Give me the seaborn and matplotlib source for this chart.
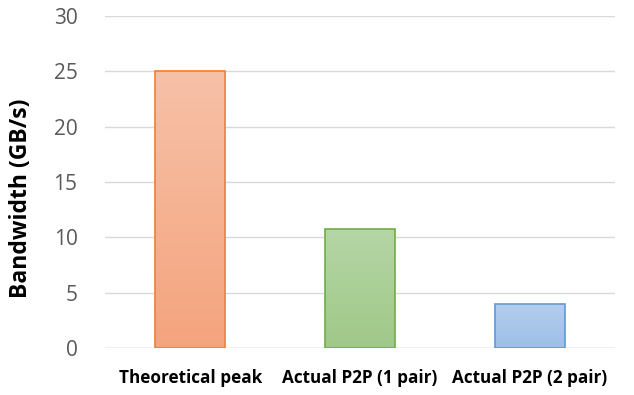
import matplotlib
matplotlib.use("Agg")
import matplotlib.pyplot as plt
import seaborn as sns
import numpy as np
import pandas as pd
from matplotlib.colors import LinearSegmentedColormap

categories = ["Theoretical peak", "Actual P2P (1 pair)", "Actual P2P (2 pair)"]
values = [25.0, 10.8, 4.0]
top_colors = ["#F7C1A8", "#B5D6A6", "#B4CEEC"]
bottom_colors = ["#F4A47D", "#A0C888", "#9CBFE8"]
edge_colors = ["#F07F35", "#70AD47", "#5B9BD5"]
yticks = [0, 5, 10, 15, 20, 25, 30]

sns.set_theme(style="white")
plt.rcParams['font.family'] = ['Open Sans', 'DejaVu Sans']

df = pd.DataFrame({"cat": categories, "val": values})
fig = plt.figure(figsize=(6.34, 3.95), dpi=100)
ax = fig.add_axes([0.166, 0.119, 0.804, 0.84])
sns.barplot(data=df, x="cat", y="val", ax=ax, width=0.41, color="white", zorder=3)

for i, p in enumerate(ax.patches):
    p.set_edgecolor(edge_colors[i])
    p.set_linewidth(1.2)
    p.set_facecolor("none")
    x0, y0 = p.get_x(), p.get_y()
    w, h = p.get_width(), p.get_height()
    cmap = LinearSegmentedColormap.from_list("g", [bottom_colors[i], top_colors[i]])
    grad = np.linspace(0, 1, 256).reshape(-1, 1)
    im = ax.imshow(grad, extent=[x0, x0 + w, y0, y0 + h], origin="lower",
                   aspect="auto", cmap=cmap, zorder=2)
    im.set_clip_path(p)

ax.set_xlim(-0.5, 2.5)
ax.set_ylim(0, 30)
ax.set_yticks(yticks)
ax.yaxis.grid(True, color="#D9D9D9", linewidth=1)
ax.set_axisbelow(True)
for s in ax.spines.values():
    s.set_visible(False)
ax.axhline(0, color="#D9D9D9", linewidth=1, zorder=1)
ax.tick_params(axis="y", length=0, labelsize=15, labelcolor="#595959", pad=20)
ax.tick_params(axis="x", length=0, pad=15)
for lbl in ax.get_xticklabels():
    lbl.set_fontweight("bold")
    lbl.set_fontsize(12.3)
    lbl.set_color("black")
ax.set_xlabel("")
ax.set_ylabel("Bandwidth (GB/s)", fontsize=16.5, fontweight="bold", color="black", labelpad=8)
ax.yaxis.set_label_coords(-0.141, 0.452)

fig.savefig("out.png", dpi=100)
